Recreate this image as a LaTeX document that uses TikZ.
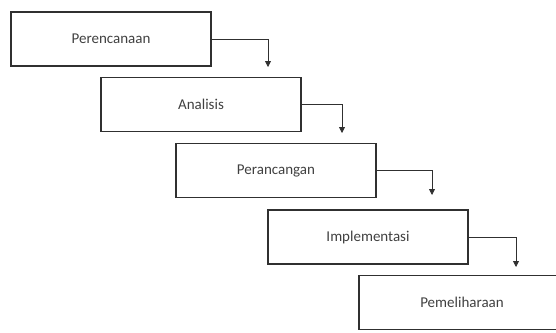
\documentclass[tikz,border=0pt]{standalone}
\usepackage{fontspec}
\setmainfont{Carlito}
\usetikzlibrary{arrows.meta}
\definecolor{txt}{HTML}{404040}
\definecolor{edge}{HTML}{303030}
\tikzset{
  phase/.style={draw=edge, line width=1.8pt, minimum width=200pt, minimum height=54pt,
    inner sep=0pt, text=txt, font=\fontsize{15}{18}\selectfont},
  flow/.style={draw=edge, line width=0.8pt, -{Triangle[width=6pt,length=6pt]}}
}
\begin{document}
\begin{tikzpicture}[x=1pt,y=-1pt]
\useasboundingbox (0,0) rectangle (556,332);
\clip (0,0) rectangle (556,332);
\node[phase] (p1) at (111,39) {Perencanaan};
\node[phase] (p2) at (201,104.5) {Analisis};
\node[phase] (p3) at (276,170.5) {Perancangan};
\node[phase] (p4) at (368,237) {Implementasi};
\node[phase, minimum width=206pt] (p5) at (462,302.5) {Pemeliharaan};
\coordinate (t1) at (268,67);
\coordinate (t2) at (342,133);
\coordinate (t3) at (432,195);
\coordinate (t4) at (516,267);
\draw[flow] (p1.east) -| (t1);
\draw[flow] (p2.east) -| (t2);
\draw[flow] (p3.east) -| (t3);
\draw[flow] (p4.east) -| (t4);
\end{tikzpicture}
\end{document}
